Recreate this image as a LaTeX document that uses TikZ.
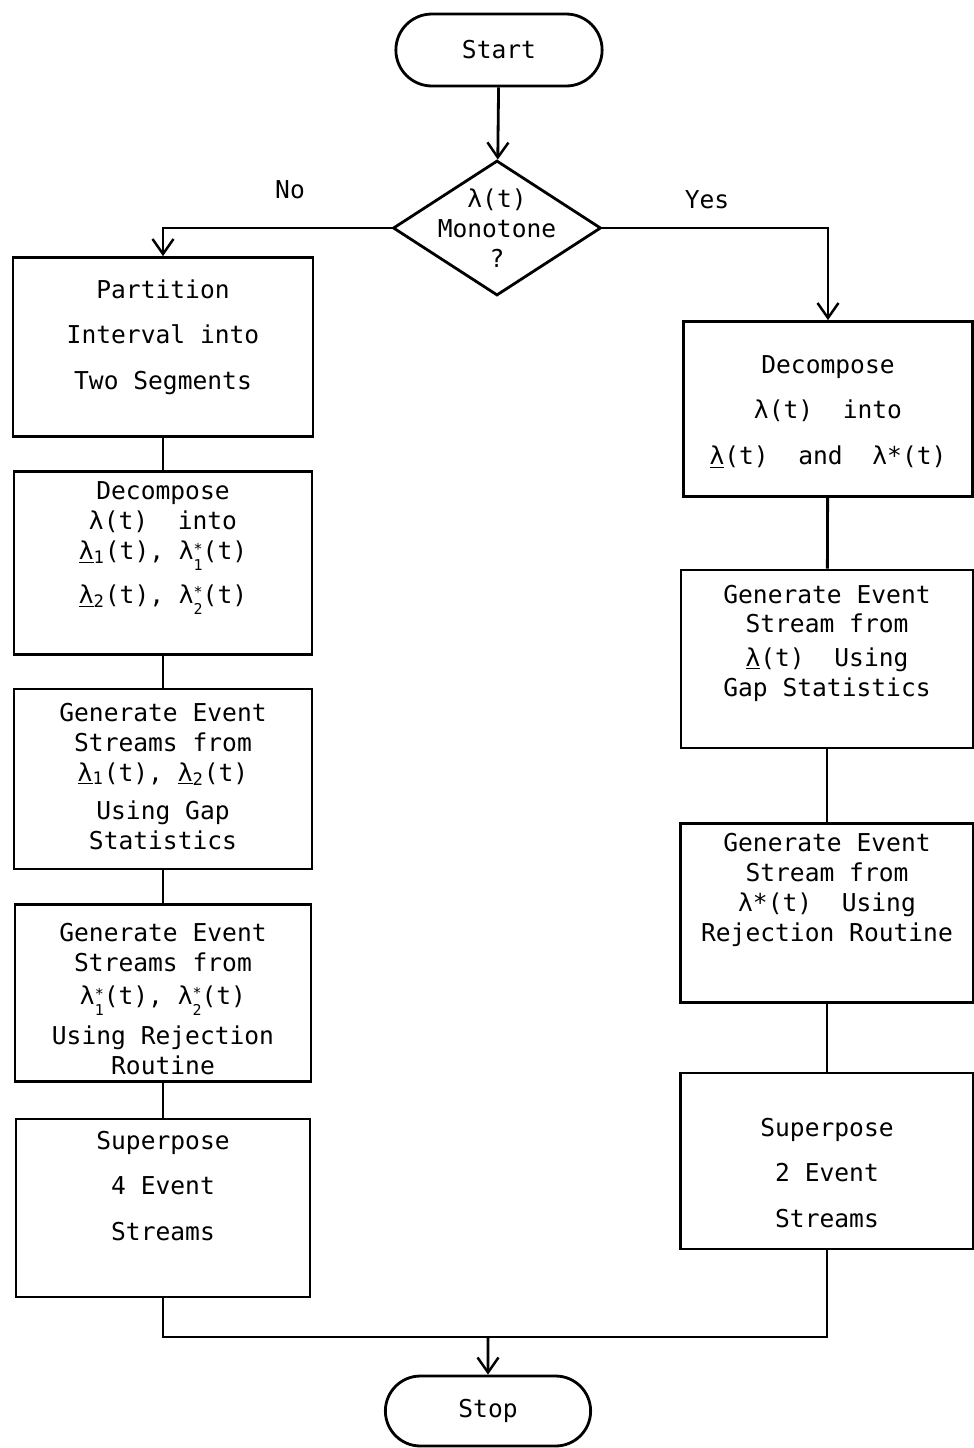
\documentclass[tikz,border=0pt]{standalone}
\usepackage{fontspec}
\usepackage{tikz}
\usetikzlibrary{shapes.geometric}
\usetikzlibrary{shapes.misc}
\usetikzlibrary{arrows.meta}

\newfontfamily\flowfont{DejaVu Sans Mono}
%% lambda mit Index und Stern uebereinander
\newcommand{\lamstar}[1]{λ\raisebox{-0.8ex}{\fontsize{8.5}{9.5}\selectfont\shortstack[l]{*\\#1}}}
\newcommand{\lamsub}[1]{\underline{λ}\textsubscript{#1}}

\begin{document}
\begin{tikzpicture}[x=0.02cm, y=-0.02cm,
    every node/.style={font=\flowfont\fontsize{14}{17}\selectfont},
    proc/.style={draw, line width=1.6pt, rectangle},
    txt/.style={align=center, font=\flowfont\fontsize{14}{17}\selectfont},
    arr/.style={line width=1.6pt, -{Straight Barb[length=0.3cm, width=0.42cm, line width=1.4pt]}},
    con/.style={line width=1.6pt}]
    \useasboundingbox (0,0) rectangle (974,1448);

    %% Anfang und Entscheidung
    \node[draw, line width=1.6pt, rounded rectangle, minimum width=4.36cm, minimum height=1.44cm] (start) at (499,50) {Start};
    \node[draw, line width=1.6pt, diamond, minimum width=4.16cm, minimum height=2.7cm, inner sep=0pt,
        label={[txt]center:λ(t)\\Monotone\\?}] (mono) at (497,228) {};
    \node (no) at (290,190) {No};
    \node (yes) at (707,200) {Yes};

    %% linker Zweig
    \node[proc, minimum width=6cm, minimum height=3.58cm,
        label={[txt, yshift=0.2cm]center:Partition\\[9pt]Interval into\\[9pt]Two Segments}] (part) at (163,347) {};
    \node[proc, minimum width=5.96cm, minimum height=3.66cm,
        label={[txt, yshift=0.3cm]center:Decompose\\λ(t)~~into\\\lamsub{1}(t), \lamstar{1}(t)\\[8pt]\lamsub{2}(t), \lamstar{2}(t)}] (decL) at (163,563) {};
    \node[proc, minimum width=5.96cm, minimum height=3.6cm,
        label={[txt, yshift=0.05cm]center:Generate Event\\Streams from\\\lamsub{1}(t), \lamsub{2}(t)\\[5pt]Using Gap\\Statistics}] (gapL) at (163,779) {};
    \node[proc, minimum width=5.92cm, minimum height=3.54cm,
        label={[txt, yshift=-0.12cm]center:Generate Event\\Streams from\\[2pt]\lamstar{1}(t), \lamstar{2}(t)\\[6pt]Using Rejection\\Routine}] (rejL) at (163,993) {};
    \node[proc, minimum width=5.88cm, minimum height=3.56cm,
        label={[txt, yshift=0.44cm]center:Superpose\\[9pt]4 Event\\[9pt]Streams}] (supL) at (163,1208) {};

    %% rechter Zweig
    \node[proc, minimum width=5.78cm, minimum height=3.5cm,
        label={[txt, yshift=-0.05cm]center:Decompose\\[9pt]λ(t)~~into\\[9pt]\underline{λ}(t)~~and~~λ*(t)}] (decR) at (828,409) {};
    \node[proc, minimum width=5.84cm, minimum height=3.56cm,
        label={[txt, yshift=0.32cm]center:Generate Event\\Stream from\\[2pt]\underline{λ}(t)~~Using\\Gap Statistics}] (gapR) at (827,659) {};
    \node[proc, minimum width=5.86cm, minimum height=3.58cm,
        label={[txt, yshift=0.46cm]center:Generate Event\\Stream from\\λ*(t)~~Using\\Rejection Routine}] (rejR) at (827,913) {};
    \node[proc, minimum width=5.86cm, minimum height=3.52cm,
        label={[txt, yshift=-0.24cm]center:Superpose\\[9pt]2 Event\\[9pt]Streams}] (supR) at (827,1161) {};

    %% Ende
    \node[draw, line width=1.6pt, rounded rectangle, minimum width=4.34cm, minimum height=1.4cm] (stop) at (488,1411) {Stop};
    \coordinate (join) at (488,1337);

    %% Verbindungen
    \draw[arr] (start) -- (mono);
    \draw[arr] (mono.west) -| (part.north);
    \draw[arr] (mono.east) -| (decR.north);
    \draw[con] (part) -- (decL);
    \draw[con] (decL) -- (gapL);
    \draw[con] (gapL) -- (rejL);
    \draw[con] (rejL) -- (supL);
    \draw[con] (decR) -- (gapR);
    \draw[con] (gapR) -- (rejR);
    \draw[con] (rejR) -- (supR);
    \draw[con] (supL.south) |- (join) -| (supR.south);
    \draw[arr] (join) -- (stop);
\end{tikzpicture}
\end{document}
